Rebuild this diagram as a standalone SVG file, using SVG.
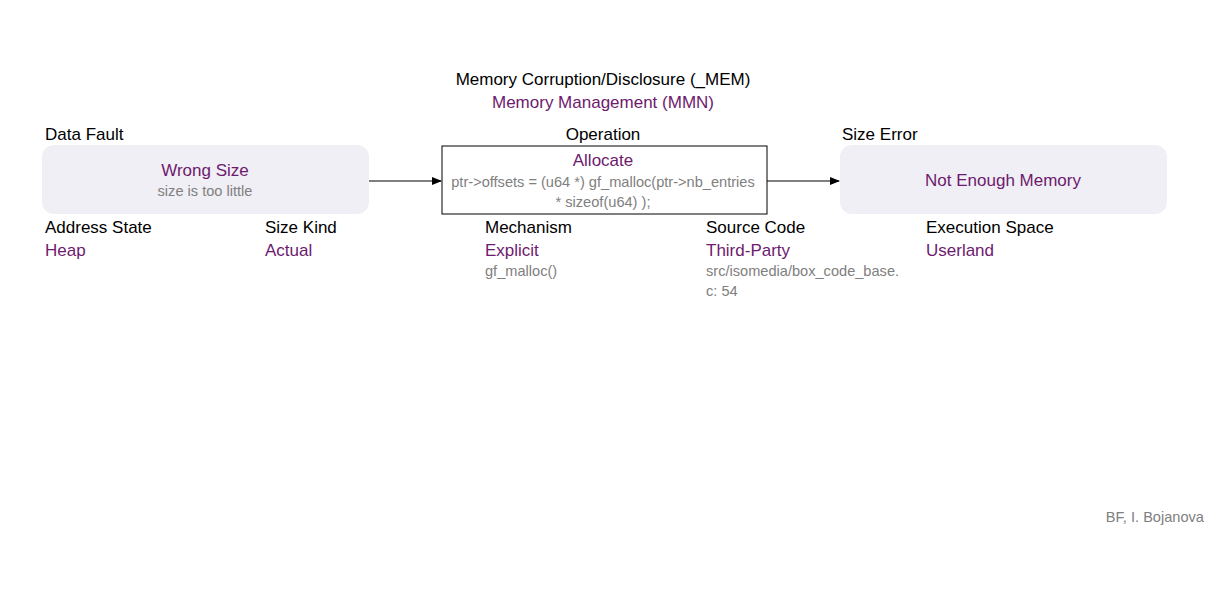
<svg xmlns="http://www.w3.org/2000/svg" width="1207" height="591" viewBox="0 0 1207 591">
<style>
text{font-family:"Liberation Sans",Arial,sans-serif;}
.lbl{font-size:17px;fill:#000;}
.val{font-size:17px;fill:#6E1A6E;}
.sub{font-size:14.6px;fill:#808080;}
.soft{fill:#F0EFF5;}
.c{text-anchor:middle;}
</style>
<defs>
<marker id="arr" markerWidth="10" markerHeight="8" refX="9" refY="4" orient="auto" markerUnits="userSpaceOnUse">
<path d="M0,0 L10,4 L0,8 z" fill="#000"/>
</marker>
</defs>
<rect width="1207" height="591" fill="#fff"/>
<g id="title">
<text class="lbl c" x="603" y="85">Memory Corruption/Disclosure (_MEM)</text>
<text class="val c" x="603" y="108">Memory Management (MMN)</text>
</g>
<g id="connectors" stroke="#000" stroke-width="1.2">
<line x1="369" y1="181" x2="441" y2="181" marker-end="url(#arr)"/>
<line x1="767" y1="181" x2="839" y2="181" marker-end="url(#arr)"/>
</g>
<g id="node-data-fault">
<text class="lbl" x="45" y="140">Data Fault</text>
<rect class="soft" x="42" y="145" width="327" height="69" rx="12"/>
<text class="val c" x="205" y="176">Wrong Size</text>
<text class="sub c" x="205" y="196">size is too little</text>
<text class="lbl" x="45" y="233">Address State</text>
<text class="val" x="45" y="256">Heap</text>
<text class="lbl" x="265" y="233">Size Kind</text>
<text class="val" x="265" y="256">Actual</text>
</g>
<g id="node-operation">
<text class="lbl c" x="603" y="140">Operation</text>
<rect x="442" y="146" width="325" height="68" fill="#fff" stroke="#000" stroke-width="1"/>
<text class="val c" x="603" y="166">Allocate</text>
<text class="sub c" x="603" y="187">ptr-&gt;offsets = (u64 *) gf_malloc(ptr-&gt;nb_entries</text>
<text class="sub c" x="603" y="207">* sizeof(u64) );</text>
<text class="lbl" x="485" y="233">Mechanism</text>
<text class="val" x="485" y="256">Explicit</text>
<text class="sub" x="485" y="276">gf_malloc()</text>
<text class="lbl" x="706" y="233">Source Code</text>
<text class="val" x="706" y="256">Third-Party</text>
<text class="sub" x="706" y="276">src/isomedia/box_code_base.</text>
<text class="sub" x="706" y="296">c: 54</text>
</g>
<g id="node-size-error">
<text class="lbl" x="842" y="140">Size Error</text>
<rect class="soft" x="840" y="145" width="327" height="69" rx="12"/>
<text class="val c" x="1003" y="186">Not Enough Memory</text>
<text class="lbl" x="926" y="233">Execution Space</text>
<text class="val" x="926" y="256">Userland</text>
</g>
<g id="credit">
<text class="sub" x="1204" y="522" text-anchor="end">BF, I. Bojanova</text>
</g>
</svg>
